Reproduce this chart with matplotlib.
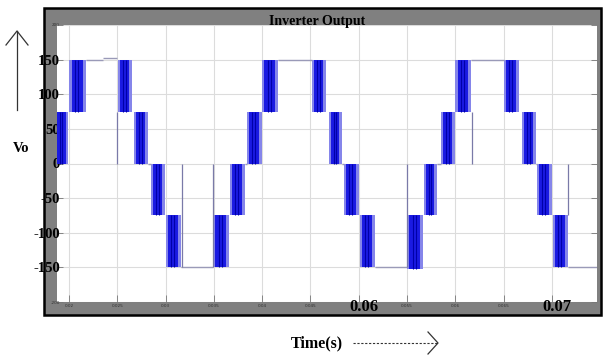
import matplotlib.pyplot as plt
from matplotlib.patches import Rectangle
from matplotlib.lines import Line2D
from matplotlib.transforms import blended_transform_factory

# PWM bands: start, end (s), lower / upper level (V)
band_start = [0.01860, 0.02000, 0.02507, 0.02673, 0.02849, 0.03004, 0.03491, 0.03667,
              0.03843, 0.03998, 0.04516, 0.04692, 0.04847, 0.05012, 0.05499, 0.05675,
              0.05851, 0.06000, 0.06503, 0.06690, 0.06845, 0.07010]
band_end = [0.01990, 0.02176, 0.02652, 0.02818, 0.02994, 0.03159, 0.03656, 0.03822,
            0.03995, 0.04164, 0.04661, 0.04826, 0.05002, 0.05168, 0.05665, 0.05810,
            0.05996, 0.06162, 0.06658, 0.06834, 0.07000, 0.07166]
band_lo = [0, 75, 75, 0, -75, -150, -150, -75, 0, 75, 75, 0, -75, -150, -153, -75,
           0, 75, 75, 0, -75, -150]
band_hi = [75, 150, 150, 75, 0, -75, -75, 0, 75, 150, 150, 75, 0, -75, -75, 0,
           75, 150, 150, 75, 0, -75]

# flat parts of the trace
flat_t0 = [0.02176, 0.02352, 0.03159, 0.04164, 0.05168, 0.06162, 0.07166,
           0.02818, 0.03822, 0.04826, 0.05810, 0.06834]
flat_t1 = [0.02352, 0.02497, 0.03491, 0.04516, 0.05499, 0.06503, 0.07480,
           0.02849, 0.03843, 0.04847, 0.05851, 0.06845]
flat_v = [150, 152, -150, 150, -150, 150, -150, 0, 0, 0, 0, 0]

# single thin pulses
spike_t = [0.02497, 0.03170, 0.03491, 0.05499, 0.06172, 0.07166]
spike_lo = [0, -150, -150, -150, 0, -75]
spike_hi = [75, 0, 0, 0, 75, 0]

xticks = [0.02, 0.025, 0.03, 0.035, 0.04, 0.045, 0.05, 0.055, 0.06, 0.065, 0.07]
xtick_labels = ['0.02', '0.025', '0.03', '0.035', '0.04', '0.045', '', '0.055',
                '0.06', '0.065', '']
yticks = [-200, -150, -100, -50, 0, 50, 100, 150, 200]
ytick_labels = ['-200', '-150', '-100', '-50', '0', '50', '100', '150', '200']

W, H = 603, 356
def fx(px):
    return px / W
def fy(py):
    return 1 - py / H

serif = 'Liberation Serif'

fig = plt.figure(figsize=(6.03, 3.56), dpi=100)

# gray scope frame
frame = Rectangle((fx(44), fy(315)), fx(601) - fx(44), fy(8) - fy(315),
                  transform=fig.transFigure, facecolor='#808080',
                  edgecolor='black', lw=1.8, zorder=-1)
fig.add_artist(frame)

ax = fig.add_axes([fx(57), fy(302), fx(597) - fx(57), fy(25) - fy(302)])
ax.set_facecolor('white')
for s in ax.spines.values():
    s.set_visible(False)
ax.set_axisbelow(True)

for t0, t1, lo, hi in zip(band_start, band_end, band_lo, band_hi):
    w = t1 - t0
    ax.bar(t0, hi - lo, width=w, bottom=lo, align='edge', color='#8585ea',
           lw=0, zorder=2)
    ax.bar(t0 + 0.15 * w, hi - lo, width=0.65 * w, bottom=lo, align='edge',
           color='#1a1ae2', lw=0, zorder=2)
    ax.vlines([t0 + 0.35 * w, t0 + 0.55 * w], lo, hi, color='#0000a8', lw=0.8, zorder=2)

ax.hlines(flat_v, flat_t0, flat_t1, color='#9a9ab8', lw=1.0, zorder=2)
ax.vlines(spike_t, spike_lo, spike_hi, color='#7a7aa8', lw=0.9, zorder=2)

ax.set_xlim(0.01876, 0.07466)
ax.set_ylim(-200, 200)
ax.grid(True, color='#dcdcdc', lw=0.8)

ax.set_xticks(xticks)
ax.set_xticklabels(xtick_labels)
ax.tick_params(axis='x', direction='in', length=5, width=0.6, color='#777777',
               labelsize=3, labelcolor='#303030', pad=1.5)
ax.set_yticks(yticks)
ax.set_yticklabels(ytick_labels)
ax.tick_params(axis='y', direction='in', length=4, width=0.6, color='#777777',
               right=True, pad=-2)
for lab in ax.get_yticklabels():
    if lab.get_text() in ('-200', '200'):
        lab.set_fontsize(3)
        lab.set_color('#303030')
    else:
        lab.set_fontsize(10.5)
        lab.set_fontfamily(serif)
        lab.set_fontweight('bold')

# large labels pasted over the time axis
trans = blended_transform_factory(ax.transData, ax.transAxes)
for xv, txt in [(0.05, '0.06'), (0.07, '0.07')]:
    ax.annotate(txt, xy=(xv, 0), xycoords=trans, xytext=(3.5, -3.5),
                textcoords='offset points', ha='center', va='center',
                fontsize=12, fontfamily=serif, fontweight='bold', annotation_clip=False)

fig.text(fx(317), fy(25.5), 'Inverter Output', ha='center', va='baseline',
         fontsize=10, fontfamily=serif, fontweight='bold')
fig.text(fx(21), fy(148), 'Vo', ha='center', va='center',
         fontsize=10.5, fontfamily=serif, fontweight='bold')
fig.text(fx(317), fy(343), 'Time(s)', ha='center', va='center',
         fontsize=11.5, fontfamily=serif, fontweight='bold')

# up arrow next to Vo
fig.add_artist(Line2D([fx(17), fx(17)], [fy(110), fy(31)], transform=fig.transFigure,
                      color='#333333', lw=0.9))
fig.add_artist(Line2D([fx(6), fx(17), fx(28)], [fy(45), fy(31), fy(45)],
                      transform=fig.transFigure, color='#333333', lw=0.9))

# dashed arrow next to Time(s)
fig.add_artist(Line2D([fx(353), fx(437)], [fy(343), fy(343)], transform=fig.transFigure,
                      color='#333333', lw=0.8, ls=(0, (2, 1.5))))
fig.add_artist(Line2D([fx(428), fx(438), fx(428)], [fy(332), fy(343), fy(354)],
                      transform=fig.transFigure, color='#333333', lw=0.9))

fig.savefig('out.png', dpi=100)
